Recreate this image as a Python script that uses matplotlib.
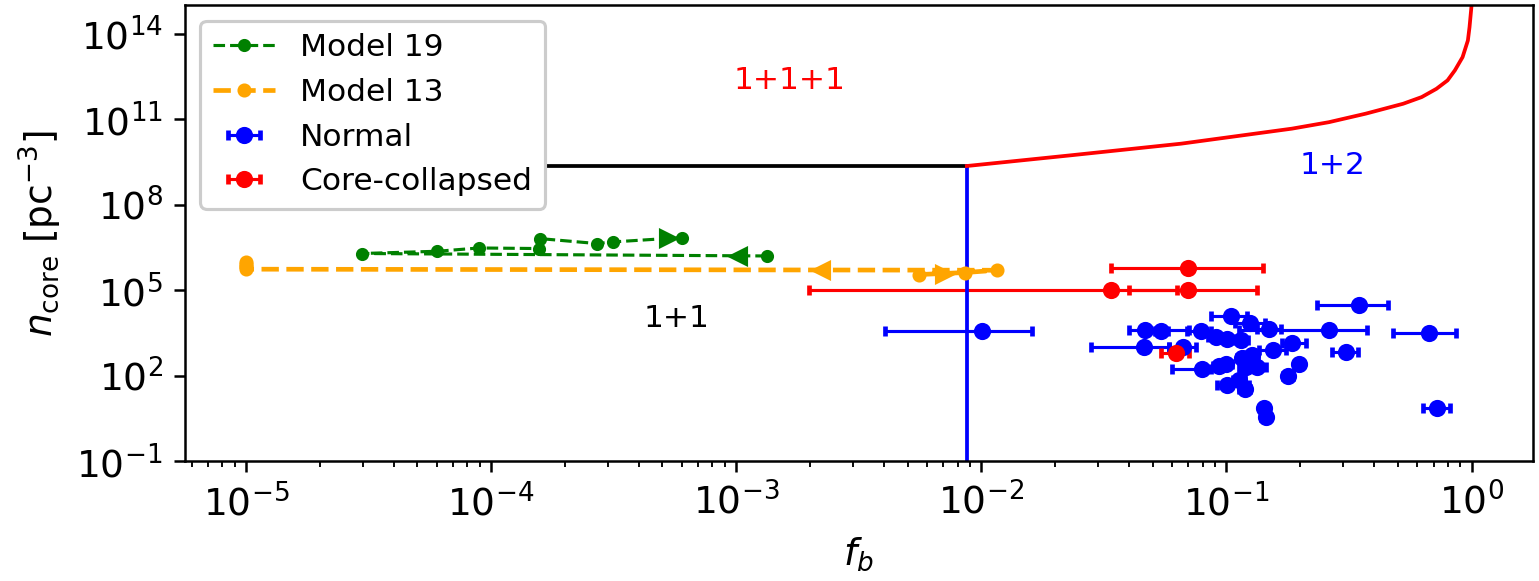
import matplotlib
matplotlib.use("Agg")
import matplotlib.pyplot as plt
import numpy as np
from matplotlib.ticker import NullLocator

# Model tracks (f_b, n_core) in time order
fb_19 = [1.334e-3, 2.97e-5, 6.04e-5, 8.95e-5, 1.574e-4, 1.585e-4, 2.70e-4, 3.15e-4, 6.0e-4]
n_19 = [1.6e6, 1.95e6, 2.34e6, 3.05e6, 2.91e6, 6.5e6, 4.36e6, 4.97e6, 7.08e6]
arrow_fb_19 = [5.26e-4, 1.014e-3]
arrow_n_19 = [7.08e6, 1.63e6]

fb_13 = [5.59e-3, 8.61e-3, 1.154e-2, 1e-5, 1e-5, 1e-5, 1e-5, 1e-5]
n_13 = [3.57e5, 4.2e5, 5.05e5, 5.5e5, 6.3e5, 7.4e5, 8.7e5, 1.0e6]
arrow_fb_13 = [7.07e-3, 2.22e-3]
arrow_n_13 = [3.8e5, 5.35e5]

# Observed clusters: value, lower and upper f_b bound
fb_normal = [0.01009, 0.1046, 0.1247, 0.04645, 0.0542, 0.0789, 0.0903, 0.1007, 0.1142,
             0.149, 0.2616, 0.0461, 0.0665, 0.1546, 0.1854, 0.0797, 0.0932, 0.0994,
             0.116, 0.1274, 0.1198, 0.1335, 0.1974, 0.1786, 0.1007, 0.1124, 0.1186,
             0.1422, 0.1444, 0.3465, 0.668, 0.306, 0.722]
n_normal = [3.67e3, 1.27e4, 6.85e3, 3.98e3, 3.77e3, 3.77e3, 2.21e3, 1.93e3, 1.78e3,
            4.3e3, 4.2e3, 1.04e3, 1.04e3, 793, 1.36e3, 167, 218, 256,
            406, 531, 196, 196, 256, 97.3, 47.1, 70.5, 33.3,
            7.18, 3.64, 3.0e4, 3.2e3, 692, 7.18]
fb_normal_lo = [0.00403, 0.0862, 0.108, 0.0401, 0.051, 0.069, 0.084, 0.095, 0.106,
                0.133, 0.1125, 0.028, 0.0583, 0.1357, 0.1683, 0.06, 0.088, 0.094,
                0.11, 0.12, 0.113, 0.1235, 0.19, 0.17, 0.0915, 0.106, 0.112,
                0.137, 0.139, 0.2344, 0.477, 0.27, 0.6316]
fb_normal_hi = [0.01614, 0.1216, 0.143, 0.0704, 0.058, 0.0865, 0.097, 0.107, 0.123,
                0.1667, 0.373, 0.0583, 0.075, 0.1747, 0.211, 0.0865, 0.099, 0.105,
                0.123, 0.135, 0.127, 0.1445, 0.205, 0.187, 0.1236, 0.119, 0.125,
                0.148, 0.15, 0.456, 0.863, 0.3434, 0.819]

fb_cc = [0.0339, 0.0697, 0.0697, 0.0621]
n_cc = [1.0e5, 1.0e5, 5.93e5, 608]
fb_cc_lo = [0.00199, 0.0401, 0.0339, 0.0541]
fb_cc_hi = [0.0629, 0.133, 0.141, 0.0704]

# Boundary between regimes
fb_crit = 0.00873
n_crit = 2.29e9
fb_curve = [0.00873, 0.0231, 0.0653, 0.185, 0.262, 0.370, 0.526, 0.626, 0.719, 0.798,
            0.855, 0.919, 0.966, 0.981, 1.0]
n_curve = [2.29e9, 5.42e9, 1.39e10, 4.68e10, 7.9e10, 1.57e11, 3.5e11, 6.0e11, 1.17e12,
           2.31e12, 5.2e12, 1.51e13, 5.8e13, 1.7e14, 1e15]

fig = plt.figure(figsize=(1539 / 225, 581 / 225), dpi=225)
ax = fig.add_axes([0.12, 0.206, 0.876, 0.785])

xerr_n = [np.array(fb_normal) - np.array(fb_normal_lo), np.array(fb_normal_hi) - np.array(fb_normal)]
eb_n = ax.errorbar(fb_normal, n_normal, xerr=xerr_n, fmt='o', color='blue', ms=4.5,
                   elinewidth=1.0, capsize=1.5, capthick=1.5, label='Normal')
xerr_c = [np.array(fb_cc) - np.array(fb_cc_lo), np.array(fb_cc_hi) - np.array(fb_cc)]
eb_c = ax.errorbar(fb_cc, n_cc, xerr=xerr_c, fmt='o', color='red', ms=4.5,
                   elinewidth=1.0, capsize=1.5, capthick=1.5, label='Core-collapsed')

ax.plot([1e-5, fb_crit], [n_crit, n_crit], color='black', lw=1.2)
ax.plot([fb_crit, fb_crit], [1e-2, n_crit], color='blue', lw=1.2)
ax.plot(fb_curve, n_curve, color='red', lw=1.2)

l19, = ax.plot(fb_19, n_19, '--o', color='green', lw=1.0, ms=3.2, label='Model 19')
ax.plot(arrow_fb_19[0], arrow_n_19[0], '>', color='green', ms=5)
ax.plot(arrow_fb_19[1], arrow_n_19[1], '<', color='green', ms=5)
l13, = ax.plot(fb_13, n_13, '--o', color='orange', lw=1.5, ms=3.5, label='Model 13')
ax.plot(arrow_fb_13[0], arrow_n_13[0], '>', color='orange', ms=5)
ax.plot(arrow_fb_13[1], arrow_n_13[1], '<', color='orange', ms=5)

ax.text(1.65e-3, 10**12.36, '1+1+1', color='red', ha='center', va='center', fontsize=10)
ax.text(0.2716, 10**9.39, '1+2', color='blue', ha='center', va='center', fontsize=10)
ax.text(5.73e-4, 10**4.02, '1+1', color='black', ha='center', va='center', fontsize=10)

ax.set_xscale('log')
ax.set_yscale('log')
ax.set_xlim(10**-5.25, 10**0.25)
ax.set_ylim(1e-1, 1e15)
ax.set_yticks([1e-1, 1e2, 1e5, 1e8, 1e11, 1e14])
ax.yaxis.set_minor_locator(NullLocator())
ax.tick_params(labelsize=12)
ax.set_xlabel(r'$f_b$', fontsize=12)
ax.set_ylabel(r'$n_{\rm core}$ [pc$^{-3}$]', fontsize=12)

ax.legend(handles=[l19, l13, eb_n, eb_c], loc='upper left', framealpha=1)

fig.savefig('out.png', dpi=225)
